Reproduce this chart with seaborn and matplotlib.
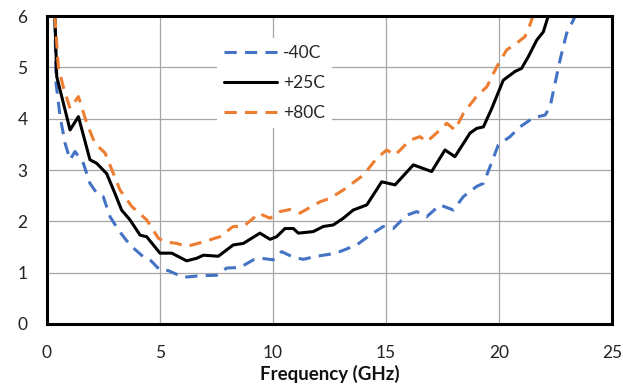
import numpy as np
import pandas as pd
import seaborn as sns
import matplotlib.pyplot as plt

# values (frequency in GHz, value)
freq_m40 = [0.35, 0.4, 0.58, 0.8, 1.02, 1.24, 1.61, 1.9, 2.2, 2.49, 2.79, 3.16, 3.67,
            4.26, 4.56, 5.0, 5.37, 6.03, 6.77, 7.51, 7.95, 8.54, 9.13, 9.5, 10.0,
            10.38, 10.9, 11.34, 11.93, 12.52, 12.96, 13.7, 14.29, 14.88, 15.32,
            15.92, 16.36, 16.8, 17.39, 17.98, 18.42, 19.01, 19.31, 19.6, 19.97,
            20.49, 20.93, 21.52, 22.04, 22.26, 22.48, 22.7, 22.99, 23.29, 23.36]
val_m40 = [5.92, 4.69, 4.04, 3.52, 3.2, 3.36, 3.13, 2.74, 2.55, 2.48, 2.09, 1.83, 1.54,
           1.31, 1.25, 1.05, 1.04, 0.91, 0.94, 0.95, 1.09, 1.10, 1.25, 1.28, 1.25,
           1.41, 1.30, 1.26, 1.32, 1.36, 1.41, 1.54, 1.73, 1.90, 1.86,
           2.12, 2.19, 2.09, 2.32, 2.22, 2.48, 2.68, 2.74, 3.06, 3.49,
           3.65, 3.84, 4.02, 4.07, 4.23, 4.69, 5.14, 5.66, 5.92, 6.0]

freq_p25 = [0.35, 0.43, 0.8, 1.02, 1.39, 1.9, 2.2, 2.64, 3.0, 3.3, 3.67, 4.12, 4.41,
            5.0, 5.52, 6.18, 6.62, 6.92, 7.58, 8.24, 8.69, 9.42, 9.87, 10.16, 10.53,
            10.9, 11.12, 11.78, 12.23, 12.67, 13.11, 13.55, 14.15, 14.81, 15.4,
            16.21, 17.02, 17.61, 18.05, 18.72, 19.01, 19.31, 19.68, 20.19, 20.71,
            21.0, 21.3, 21.67, 21.96, 22.18]
val_p25 = [6.0, 4.82, 4.17, 3.78, 4.04, 3.2, 3.13, 2.93, 2.55, 2.22, 2.03, 1.73, 1.70,
           1.38, 1.38, 1.23, 1.28, 1.34, 1.32, 1.54, 1.57, 1.77, 1.65, 1.70, 1.86,
           1.86, 1.77, 1.80, 1.90, 1.93, 2.06, 2.22, 2.32, 2.77, 2.71,
           3.10, 2.97, 3.39, 3.26, 3.72, 3.81, 3.84, 4.20, 4.75, 4.92,
           4.98, 5.21, 5.53, 5.69, 6.0]

freq_p80 = [0.35, 0.5, 0.72, 1.02, 1.39, 1.76, 2.12, 2.57, 2.93, 3.23, 3.75, 4.41,
            4.93, 5.22, 5.74, 6.18, 6.92, 7.65, 8.24, 8.69, 9.13, 9.35, 9.87, 10.31,
            10.75, 11.19, 12.08, 12.52, 13.11, 14.0, 14.59, 15.03, 15.4, 16.06,
            16.5, 16.8, 17.24, 17.69, 18.05, 18.42, 19.0, 19.46, 19.9, 20.34,
            20.78, 21.15, 21.37, 21.5]
val_p80 = [6.0, 5.01, 4.62, 4.2, 4.43, 3.91, 3.52, 3.33, 2.94, 2.61, 2.29, 2.03,
           1.67, 1.60, 1.57, 1.51, 1.60, 1.70, 1.90, 1.90, 2.06, 2.16, 2.06, 2.19,
           2.23, 2.16, 2.38, 2.45, 2.61, 2.90, 3.23, 3.39, 3.29, 3.58,
           3.65, 3.55, 3.72, 3.91, 3.78, 4.10, 4.43, 4.62, 5.01, 5.34,
           5.47, 5.60, 5.83, 6.0]

x_ticks = [0, 5, 10, 15, 20, 25]
y_ticks = [0, 1, 2, 3, 4, 5, 6]

sns.set_theme(style="white")
plt.rcParams["font.family"] = ["Lato", "DejaVu Sans"]

fig = plt.figure(figsize=(6.23, 3.90), dpi=100)
ax = fig.add_axes([47 / 623, 66 / 390, 565 / 623, 308 / 390])

series = [
    (freq_m40, val_m40, "-40C", "#4472C4", (4, 2.7)),
    (freq_p25, val_p25, "+25C", "black", None),
    (freq_p80, val_p80, "+80C", "#ED7D31", (4, 2.7)),
]
for fx, fy, name, color, dash in series:
    df = pd.DataFrame({"freq": fx, "val": fy})
    sns.lineplot(data=df, x="freq", y="val", ax=ax, color=color,
                 linewidth=2.2, label=name, estimator=None, sort=False)
    if dash is not None:
        ax.lines[-1].set_dashes(dash)

ax.set_xlim(0, 25)
ax.set_ylim(0, 6)
ax.set_xticks(x_ticks)
ax.set_yticks(y_ticks)
ax.grid(True, color="#a6a6a6", linewidth=0.9)
ax.set_axisbelow(True)
for sp in ax.spines.values():
    sp.set_color("black")
    sp.set_linewidth(2.2)
ax.tick_params(length=0, labelsize=12.5, colors="#222222")
ax.tick_params(axis="x", pad=15)
ax.tick_params(axis="y", pad=14)
ax.set_xlabel("Frequency (GHz)", fontsize=13.5, fontweight="bold", labelpad=3,
              color="#111111")
ax.set_ylabel("")

leg = ax.legend(loc="upper left", bbox_to_anchor=(0.285, 0.956), frameon=True,
                facecolor="white", edgecolor="none", framealpha=1, fancybox=False,
                fontsize=12.5, handlelength=3.1, labelspacing=0.8, borderpad=0.4,
                handletextpad=0.3)
for h in leg.get_lines():
    h.set_linewidth(2.2)

fig.savefig("out.png", dpi=100)
